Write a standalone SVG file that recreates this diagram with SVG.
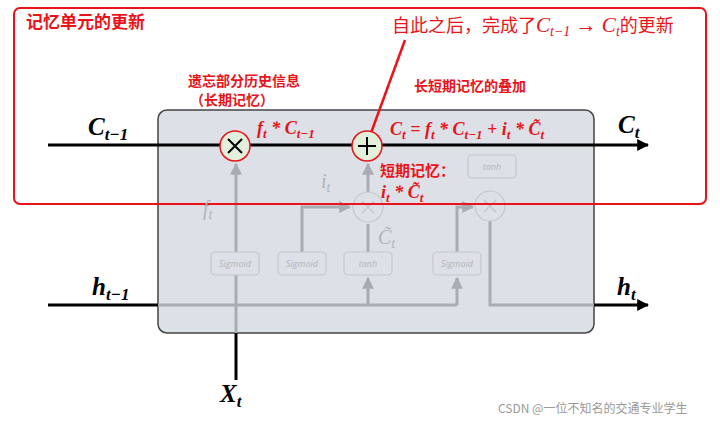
<svg xmlns="http://www.w3.org/2000/svg" width="720" height="421" viewBox="0 0 720 421">
<defs>
<style>
.cn{font-family:"Noto Sans CJK SC","Noto Sans",sans-serif}
.m{font-family:"Liberation Serif","DejaVu Serif",serif;font-weight:bold;font-style:italic}
.g{stroke:#a9adb3;stroke-width:3;fill:none}
.k{stroke:#000;stroke-width:3;fill:none}
.sb{fill:#dde1e7;stroke:#c4c8ce;stroke-width:1.2}
.st{font-family:"Open Sans",sans-serif;font-style:italic;font-size:9px;fill:#b0b4ba;text-anchor:middle}
.red{fill:#e8141a}
</style>
<marker id="ak" viewBox="0 0 10 10" refX="9" refY="5" markerWidth="4" markerHeight="4" orient="auto"><path d="M0,0L10,5L0,10z" fill="#000"/></marker>
<marker id="ag" viewBox="0 0 10 10" refX="9" refY="5" markerWidth="4" markerHeight="4" orient="auto"><path d="M0,0L10,5L0,10z" fill="#a9adb3"/></marker>
</defs>
<rect width="720" height="421" fill="#fff"/>
<g id="cell"><rect x="158" y="110" width="436" height="223" rx="9" fill="#dde1e7" stroke="#444" stroke-width="1.5"/></g>
<g id="connectors">
<line class="k" x1="48" y1="145" x2="648" y2="145" marker-end="url(#ak)"/>
<line class="k" x1="48" y1="305" x2="158" y2="305"/>
<polyline class="g" points="158,305 457,305"/>
<line class="k" x1="236" y1="380" x2="236" y2="333"/>
<line class="g" x1="236" y1="333" x2="236" y2="164" marker-end="url(#ag)"/>
<line class="g" x1="368" y1="192" x2="368" y2="164" marker-end="url(#ag)"/>
<polyline class="g" points="302,252 302,207 350,207" marker-end="url(#ag)"/>
<line class="g" x1="368" y1="252" x2="368" y2="224"/>
<line class="g" x1="368" y1="305" x2="368" y2="278" marker-end="url(#ag)"/>
<line class="g" x1="457" y1="305" x2="457" y2="278" marker-end="url(#ag)"/>
<polyline class="g" points="457,252 457,207 473,207" marker-end="url(#ag)"/>
<polyline class="g" points="490,221 490,305 594,305"/>
<line class="k" x1="594" y1="305" x2="648" y2="305" marker-end="url(#ak)"/>
<line x1="371" y1="133" x2="405" y2="40" stroke="#e8141a" stroke-width="2.5"/>
</g>
<g id="mul1"><circle cx="235" cy="146" r="15" fill="#e2efda" stroke="#e8141a" stroke-width="1.5"/><path d="M228,139L242,153M242,139L228,153" stroke="#000" stroke-width="2"/></g>
<g id="add"><circle cx="367" cy="146" r="15" fill="#e2efda" stroke="#e8141a" stroke-width="1.5"/><path d="M358,146H376M367,137V155" stroke="#000" stroke-width="2"/></g>
<g id="mul2"><circle cx="368" cy="207" r="15" fill="#dde1e7" stroke="#c4c8ce" stroke-width="1.2"/><path d="M362,201L374,213M374,201L362,213" stroke="#c4c8ce" stroke-width="1.5"/></g>
<g id="mul3"><circle cx="490" cy="206" r="15" fill="#dde1e7" stroke="#c4c8ce" stroke-width="1.2"/><path d="M484,200L496,212M496,200L484,212" stroke="#c4c8ce" stroke-width="1.5"/></g>
<g id="sig1"><rect class="sb" x="211" y="252" width="48" height="23" rx="4"/><text class="st" x="235" y="267">Sigmoid</text></g>
<g id="sig2"><rect class="sb" x="278" y="252" width="48" height="23" rx="4"/><text class="st" x="302" y="267">Sigmoid</text></g>
<g id="tanh1"><rect class="sb" x="344" y="252" width="48" height="23" rx="4"/><text class="st" x="368" y="267">tanh</text></g>
<g id="sig3"><rect class="sb" x="433" y="252" width="48" height="23" rx="4"/><text class="st" x="457" y="267">Sigmoid</text></g>
<g id="tanh2"><rect class="sb" x="468" y="155" width="48" height="23" rx="4"/><text class="st" x="492" y="170">tanh</text></g>
<g id="frame"><rect x="14" y="8" width="692" height="196" rx="6" fill="none" stroke="#e8141a" stroke-width="2"/></g>
<g id="labels">
<text class="m" x="88" y="135" font-size="25">C<tspan font-size="17" dy="5">t−1</tspan></text>
<text class="m" x="618" y="133" font-size="25">C<tspan font-size="17" dy="5">t</tspan></text>
<text class="m" x="92" y="295" font-size="25">h<tspan font-size="17" dy="5">t−1</tspan></text>
<text class="m" x="617" y="295" font-size="25">h<tspan font-size="17" dy="5">t</tspan></text>
<text class="m" x="220" y="402" font-size="25">X<tspan font-size="17" dy="5">t</tspan></text>
<text x="203" y="215" font-family="Liberation Serif,serif" font-style="italic" font-size="20" fill="#b0b4ba">f<tspan font-size="14" dy="4">t</tspan></text>
<text x="321" y="188" font-family="Liberation Serif,serif" font-style="italic" font-size="20" fill="#b0b4ba">i<tspan font-size="14" dy="4">t</tspan></text>
<text x="378" y="244" font-family="Liberation Serif,serif" font-style="italic" font-size="20" fill="#b0b4ba">C̃<tspan font-size="14" dy="4">t</tspan></text>
<text class="cn" x="26" y="28" font-size="17" font-weight="bold" fill="#e8141a">记忆单元的更新</text>
<text x="392" y="32" font-size="18" class="red" font-family="Noto Sans CJK SC,sans-serif">自此之后，完成了<tspan font-family="Liberation Serif,serif" font-style="italic" font-size="21">C<tspan font-size="14" dy="4">t−1</tspan><tspan dy="-4"> → C</tspan><tspan font-size="14" dy="4">t</tspan></tspan><tspan dy="-4">的更新</tspan></text>
<text class="cn red" x="188" y="86" font-size="14" font-weight="bold">遗忘部分历史信息</text>
<text class="cn red" x="190" y="105" font-size="14" font-weight="bold">（长期记忆）</text>
<text class="cn red" x="414" y="91" font-size="14" font-weight="bold">长短期记忆的叠加</text>
<text class="cn red" x="380" y="176" font-size="15" font-weight="bold">短期记忆：</text>
<text class="m red" x="381" y="198" font-size="18">i<tspan font-size="13" dy="4">t</tspan><tspan dy="-4"> * C̃</tspan><tspan font-size="13" dy="4">t</tspan></text>
<text class="m red" x="257" y="134" font-size="18">f<tspan font-size="13" dy="4">t</tspan><tspan dy="-4"> * C</tspan><tspan font-size="13" dy="4">t−1</tspan></text>
<text class="m red" x="390" y="135" font-size="18">C<tspan font-size="13" dy="4">t</tspan><tspan dy="-4"> = f</tspan><tspan font-size="13" dy="4">t</tspan><tspan dy="-4"> * C</tspan><tspan font-size="13" dy="4">t−1</tspan><tspan dy="-4"> + i</tspan><tspan font-size="13" dy="4">t</tspan><tspan dy="-4"> * C̃</tspan><tspan font-size="13" dy="4">t</tspan></text>
<text x="498" y="413" font-family="Noto Sans CJK SC,sans-serif" font-size="12" fill="#999">CSDN @一位不知名的交通专业学生</text>
</g>
</svg>
